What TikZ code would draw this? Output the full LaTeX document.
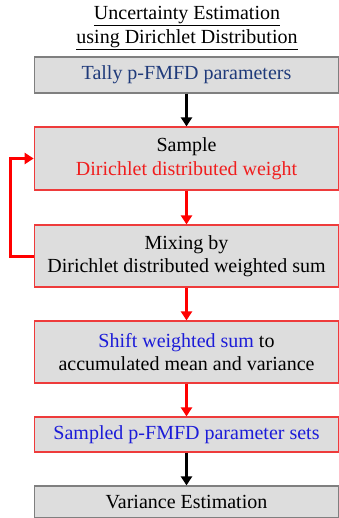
\documentclass[tikz,border=0pt]{standalone}
\usepackage{fontspec}
\setmainfont{Liberation Serif}
\usetikzlibrary{arrows.meta}
\definecolor{boxfill}{HTML}{DDDDDD}
\definecolor{boxgray}{HTML}{7F7F7F}
\definecolor{boxred}{HTML}{EE3B3B}
\definecolor{navy}{HTML}{1F3A7A}
\definecolor{textblue}{HTML}{1C1CD8}
\definecolor{textred}{HTML}{F01E1E}
\tikzset{
  x=1pt, y=-1pt,
  base/.style={fill=boxfill, line width=1.2pt, minimum width=304.5pt, inner sep=0pt, align=center,
    font=\fontsize{20}{23.5}\selectfont},
  graybox/.style={base, draw=boxgray},
  redbox/.style={base, draw=boxred},
  blackarrow/.style={draw=black, line width=3pt, -{Triangle[width=11pt,length=9pt]}},
  redarrow/.style={draw=red, line width=3pt, -{Triangle[width=11pt,length=9pt]}},
  titletext/.style={font=\fontsize{20}{23.5}\selectfont, inner sep=0pt}
}
\begin{document}
\begin{tikzpicture}
\useasboundingbox (0,0) rectangle (339,518);
\node[titletext] (t1) at (187,16) {\underline{Uncertainty Estimation}};
\node[titletext] (t2) at (187,40) {\underline{using Dirichlet Distribution}};
\node[graybox, minimum height=36pt] (b1) at (186.5,75) {\textcolor{navy}{Tally p-FMFD parameters}};
\node[redbox, minimum height=63pt] (b2) at (186.5,158.5) {Sample\\\textcolor{textred}{Dirichlet distributed weight}};
\node[redbox, minimum height=62pt] (b3) at (186.5,256) {Mixing by\\Dirichlet distributed weighted sum};
\node[redbox, minimum height=62pt] (b4) at (186.5,352) {\textcolor{textblue}{Shift weighted sum} to\\accumulated mean and variance};
\node[redbox, minimum height=35pt] (b5) at (186.5,434.5) {\textcolor{textblue}{Sampled p-FMFD parameter sets}};
\node[graybox, minimum height=32pt] (b6) at (186.5,502) {Variance Estimation};
\coordinate (lp) at (10,200);
\draw[blackarrow] (b1) -- (b2);
\draw[redarrow] (b2) -- (b3);
\draw[redarrow] (b3) -- (b4);
\draw[redarrow] (b4) -- (b5);
\draw[blackarrow] (b5) -- (b6);
\draw[redarrow] (b3.west) -| (lp) |- (b2.west);
\end{tikzpicture}
\end{document}
